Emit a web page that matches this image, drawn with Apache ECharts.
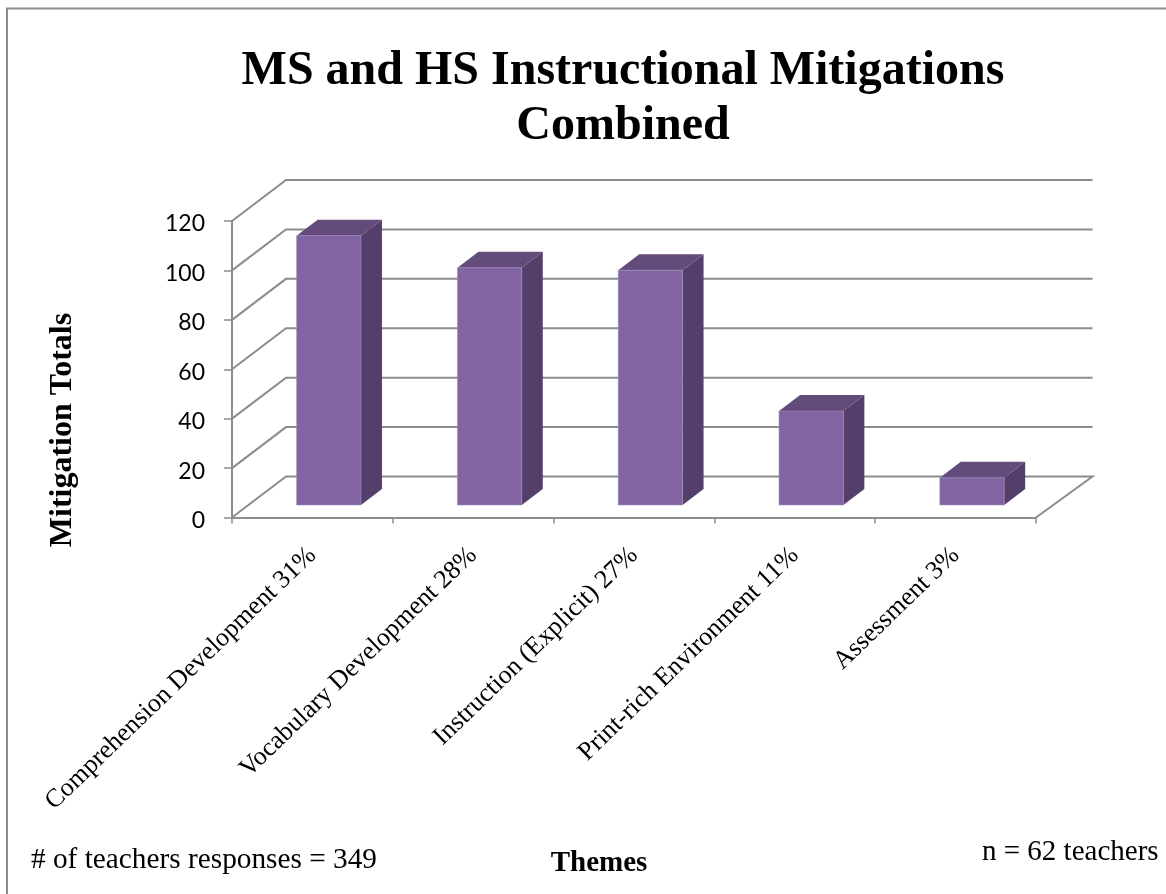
<!DOCTYPE html>
<html><head><meta charset="utf-8">
<style>html,body{margin:0;padding:0;background:#fff}#c{width:1166px;height:894px}</style>
<script src="https://cdn.jsdelivr.net/npm/echarts@6/dist/echarts.min.js"></script>
</head><body><div id="c"></div>
<script>
var categories = ['Comprehension Development 31%','Vocabulary Development 28%','Instruction (Explicit) 27%','Print-rich Environment 11%','Assessment 3%'];
var mitigationTotals = [109, 96, 95, 38, 11];
var yTicks = [0, 20, 40, 60, 80, 100, 120];
var titleText = 'MS and HS Instructional Mitigations\nCombined';
var yName = 'Mitigation Totals';
var xName = 'Themes';
var noteLeft = '# of teachers responses = 349';
var noteRight = 'n = 62 teachers';

var SERIF = '"Liberation Serif","Times New Roman",serif';
var DEPTH = {x: 54, y: -41, rightExtra: 2.5};
var BAR = {frontX: 16.4, frontY: -12.5, dx: 21, dy: -16, widthRatio: 0.4};
var GRID_COLOR = '#8c8c8c';

var chart = echarts.init(document.getElementById('c'), null, {renderer: 'canvas'});
chart.setOption({
  animation: false,
  backgroundColor: '#fff',
  title: {
    text: titleText, left: 618, top: 39, textAlign: 'center',
    textStyle: {fontFamily: SERIF, fontWeight: 'bold', fontSize: 48, lineHeight: 55, color: '#000'}
  },
  grid: {left: 232, right: 130, top: 221, bottom: 376.5},
  xAxis: {
    type: 'category', data: categories,
    axisLine: {lineStyle: {color: GRID_COLOR, width: 2}},
    axisTick: {show: true, alignWithLabel: false, length: 6, lineStyle: {color: GRID_COLOR, width: 1.5}},
    axisLabel: {rotate: 44, interval: 0, margin: 34, fontFamily: SERIF, fontSize: 26, color: '#000'},
    splitLine: {show: false}
  },
  yAxis: {
    type: 'value', min: 0, max: 120, interval: 20,
    axisLine: {show: true, lineStyle: {color: GRID_COLOR, width: 2}},
    axisTick: {show: true, length: 8, lineStyle: {color: GRID_COLOR, width: 1.5}},
    axisLabel: {
      margin: 27, color: '#000',
      formatter: function (v) { return '{n|' + v + '}'; },
      rich: {n: {fontFamily: 'Lato', fontSize: 23, color: '#000', padding: [6, 0, 0, 0]}}
    },
    splitLine: {show: false}
  },
  graphic: [
    {type: 'rect', z: -1, shape: {x: 7, y: 8.5, width: 1170, height: 900}, style: {fill: 'none', stroke: '#8c8c8c', lineWidth: 2}},
    {type: 'text', x: 31, y: 860, style: {text: noteLeft, fontFamily: SERIF, fontSize: 29.3, fill: '#000', textVerticalAlign: 'middle'}},
    {type: 'text', x: 982, y: 852, style: {text: noteRight, fontFamily: SERIF, fontSize: 29, fill: '#000', textVerticalAlign: 'middle'}},
    {type: 'text', x: 599, y: 864, style: {text: xName, fontFamily: SERIF, fontWeight: 'bold', fontSize: 29, fill: '#000', textAlign: 'center', textVerticalAlign: 'middle'}},
    {type: 'text', x: 63, y: 430, rotation: Math.PI / 2, style: {text: yName, fontFamily: SERIF, fontWeight: 'bold', fontSize: 32, fill: '#000', textAlign: 'center', textVerticalAlign: 'middle'}}
  ],
  series: [
    {
      type: 'custom', coordinateSystem: 'cartesian2d', silent: true, z: 1,
      encode: {x: 0, y: 1},
      data: yTicks.map(function (t) { return [0, t]; }),
      renderItem: function (params, api) {
        var t = api.value(1);
        var a = api.coord([0, t]);
        var leftX = params.coordSys.x, rightX = leftX + params.coordSys.width;
        var backY = a[1] + DEPTH.y;
        var pts = [[leftX, a[1]], [leftX + DEPTH.x, backY], [rightX + DEPTH.x + DEPTH.rightExtra, backY]];
        if (t === 0) pts.push([rightX, a[1]]);
        return {type: 'polyline', shape: {points: pts}, style: {fill: 'none', stroke: GRID_COLOR, lineWidth: 2}};
      }
    },
    {
      type: 'custom', coordinateSystem: 'cartesian2d', silent: true, z: 2,
      encode: {x: 0, y: 1},
      data: mitigationTotals.map(function (v, i) { return [i, v]; }),
      renderItem: function (params, api) {
        var i = api.value(0), v = api.value(1);
        var top = api.coord([i, v]), base = api.coord([i, 0]);
        var w = api.size([1, 0])[0] * BAR.widthRatio;
        var x0 = top[0] + BAR.frontX - w / 2, x1 = x0 + w;
        var yt = top[1] + BAR.frontY, yb = base[1] + BAR.frontY;
        var dx = BAR.dx, dy = BAR.dy;
        return {type: 'group', children: [
          {type: 'polygon', shape: {points: [[x1, yt], [x1 + dx, yt + dy], [x1 + dx, yb + dy], [x1, yb]]}, style: {fill: '#533f69'}},
          {type: 'polygon', shape: {points: [[x0, yt], [x0 + dx, yt + dy], [x1 + dx, yt + dy], [x1, yt]]}, style: {fill: '#634b7b'}},
          {type: 'rect', shape: {x: x0, y: yt, width: w, height: yb - yt}, style: {fill: '#8264a3', stroke: '#a08cbb', lineWidth: 0.6}}
        ]};
      }
    }
  ]
});
</script></body></html>
